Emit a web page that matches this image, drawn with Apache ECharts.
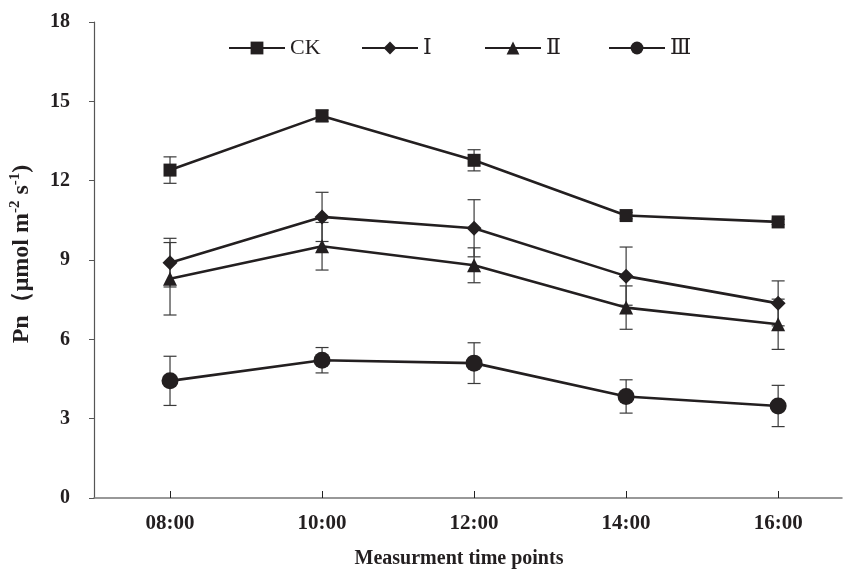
<!DOCTYPE html>
<html><head><meta charset="utf-8">
<script src="https://cdn.jsdelivr.net/npm/echarts@6/dist/echarts.min.js"></script>
<style>html,body{margin:0;padding:0;background:#fff}#c{width:846px;height:574px}</style>
</head><body><div id="c"></div>
<script>
const categories = ['08:00','10:00','12:00','14:00','16:00'];
const seriesNames = ['CK','Ⅰ','Ⅱ','Ⅲ'];
const ckMean = [12.40, 14.45, 12.77, 10.68, 10.44];
const ckErr  = [0.50, 0.22, 0.40, 0.12, 0.10];
const iMean  = [8.90, 10.63, 10.20, 8.39, 7.36];
const iErr   = [0.92, 0.93, 1.08, 1.10, 0.85];
const iiMean = [8.29, 9.52, 8.80, 7.20, 6.57];
const iiErr  = [1.37, 0.90, 0.66, 0.82, 0.95];
const iiiMean= [4.43, 5.21, 5.10, 3.84, 3.48];
const iiiErr = [0.93, 0.48, 0.77, 0.63, 0.78];
const yTicks = [0,3,6,9,12,15,18];

const means = [ckMean, iMean, iiMean, iiiMean];
const errs = [ckErr, iErr, iiErr, iiiErr];
const symbols = ['rect','diamond','triangle','circle'];
const symbolSizes = [13, 15, 14, 17];
const legendLeft = [223, 356, 479, 603];
const lineColor = '#231f20';
const serif = '"Liberation Serif","Times New Roman","DejaVu Serif",serif';

const series = [];
means.forEach((m, k) => {
  series.push({
    type: 'custom', name: seriesNames[k] + '_err', silent: true, z: 1,
    data: m.map((v, i) => [i, v - errs[k][i], v + errs[k][i]]),
    renderItem: function (params, api) {
      const lo = api.coord([api.value(0), api.value(1)]);
      const hi = api.coord([api.value(0), api.value(2)]);
      const w = 6.5;
      const st = {stroke: '#3a3a3a', lineWidth: 1.2};
      return {type: 'group', children: [
        {type: 'line', shape: {x1: lo[0], y1: lo[1], x2: hi[0], y2: hi[1]}, style: st},
        {type: 'line', shape: {x1: lo[0]-w, y1: lo[1], x2: lo[0]+w, y2: lo[1]}, style: st},
        {type: 'line', shape: {x1: hi[0]-w, y1: hi[1], x2: hi[0]+w, y2: hi[1]}, style: st}
      ]};
    }
  });
  series.push({
    type: 'line', name: seriesNames[k], z: 3,
    data: m.map((v, i) => [i, v]),
    symbol: symbols[k], symbolSize: symbolSizes[k],
    lineStyle: {color: lineColor, width: 2.6},
    itemStyle: {color: lineColor, borderWidth: 0},
    emphasis: {disabled: true}
  });
});

const legends = seriesNames.map((n, k) => ({
  data: [n], top: 32, left: legendLeft[k],
  itemWidth: 56, itemHeight: 16, itemGap: 0,
  selectedMode: false,
  textStyle: {fontFamily: serif, fontSize: 22, color: '#231f20'}
}));

const chart = echarts.init(document.getElementById('c'), null, {renderer: 'canvas'});
chart.setOption({
  animation: false,
  backgroundColor: '#fff',
  grid: {left: 92, right: 4, top: 22, bottom: 76, containLabel: false},
  legend: legends,
  xAxis: {
    type: 'value', min: -0.5, max: 4.42,
    splitLine: {show: false},
    axisLine: {show: true, onZero: false, lineStyle: {color: '#777', width: 1.5}},
    axisTick: {show: true, inside: true, length: 7, customValues: [0,1,2,3,4], lineStyle: {color: '#222'}},
    axisLabel: {
      customValues: [0,1,2,3,4],
      formatter: v => categories[Math.round(v)] || '',
      fontFamily: serif, fontWeight: 'bold', fontSize: 21, color: '#231f20', margin: 15
    },
    name: 'Measurment time points', nameLocation: 'middle', nameGap: 51,
    nameTextStyle: {fontFamily: serif, fontWeight: 'bold', fontSize: 20, color: '#231f20', padding: [0, 18, 0, 0]}
  },
  yAxis: {
    type: 'value', min: 0, max: 18, interval: 3,
    splitLine: {show: false},
    axisLine: {show: true, onZero: false, lineStyle: {color: '#555', width: 1.2}},
    axisTick: {show: true, inside: false, length: 5, lineStyle: {color: '#555'}},
    axisLabel: {fontFamily: serif, fontWeight: 'bold', fontSize: 20, color: '#231f20', margin: 24,
      formatter: v => yTicks.includes(v) ? String(v) : ''},
    name: '{b|Pn（μmol m}{s|-2}{b| s}{s|-1}{b|)}',
    nameLocation: 'middle', nameGap: 60, nameRotate: 90,
    nameTextStyle: {
      padding: [0, 0, 0, 12],
      rich: {
        b: {fontFamily: serif, fontWeight: 'bold', fontSize: 24, color: '#231f20', lineHeight: 26, verticalAlign: 'bottom'},
        s: {fontFamily: serif, fontWeight: 'bold', fontSize: 15, color: '#231f20', lineHeight: 26, verticalAlign: 'top'}
      }
    }
  },
  series: series
});
</script></body></html>
